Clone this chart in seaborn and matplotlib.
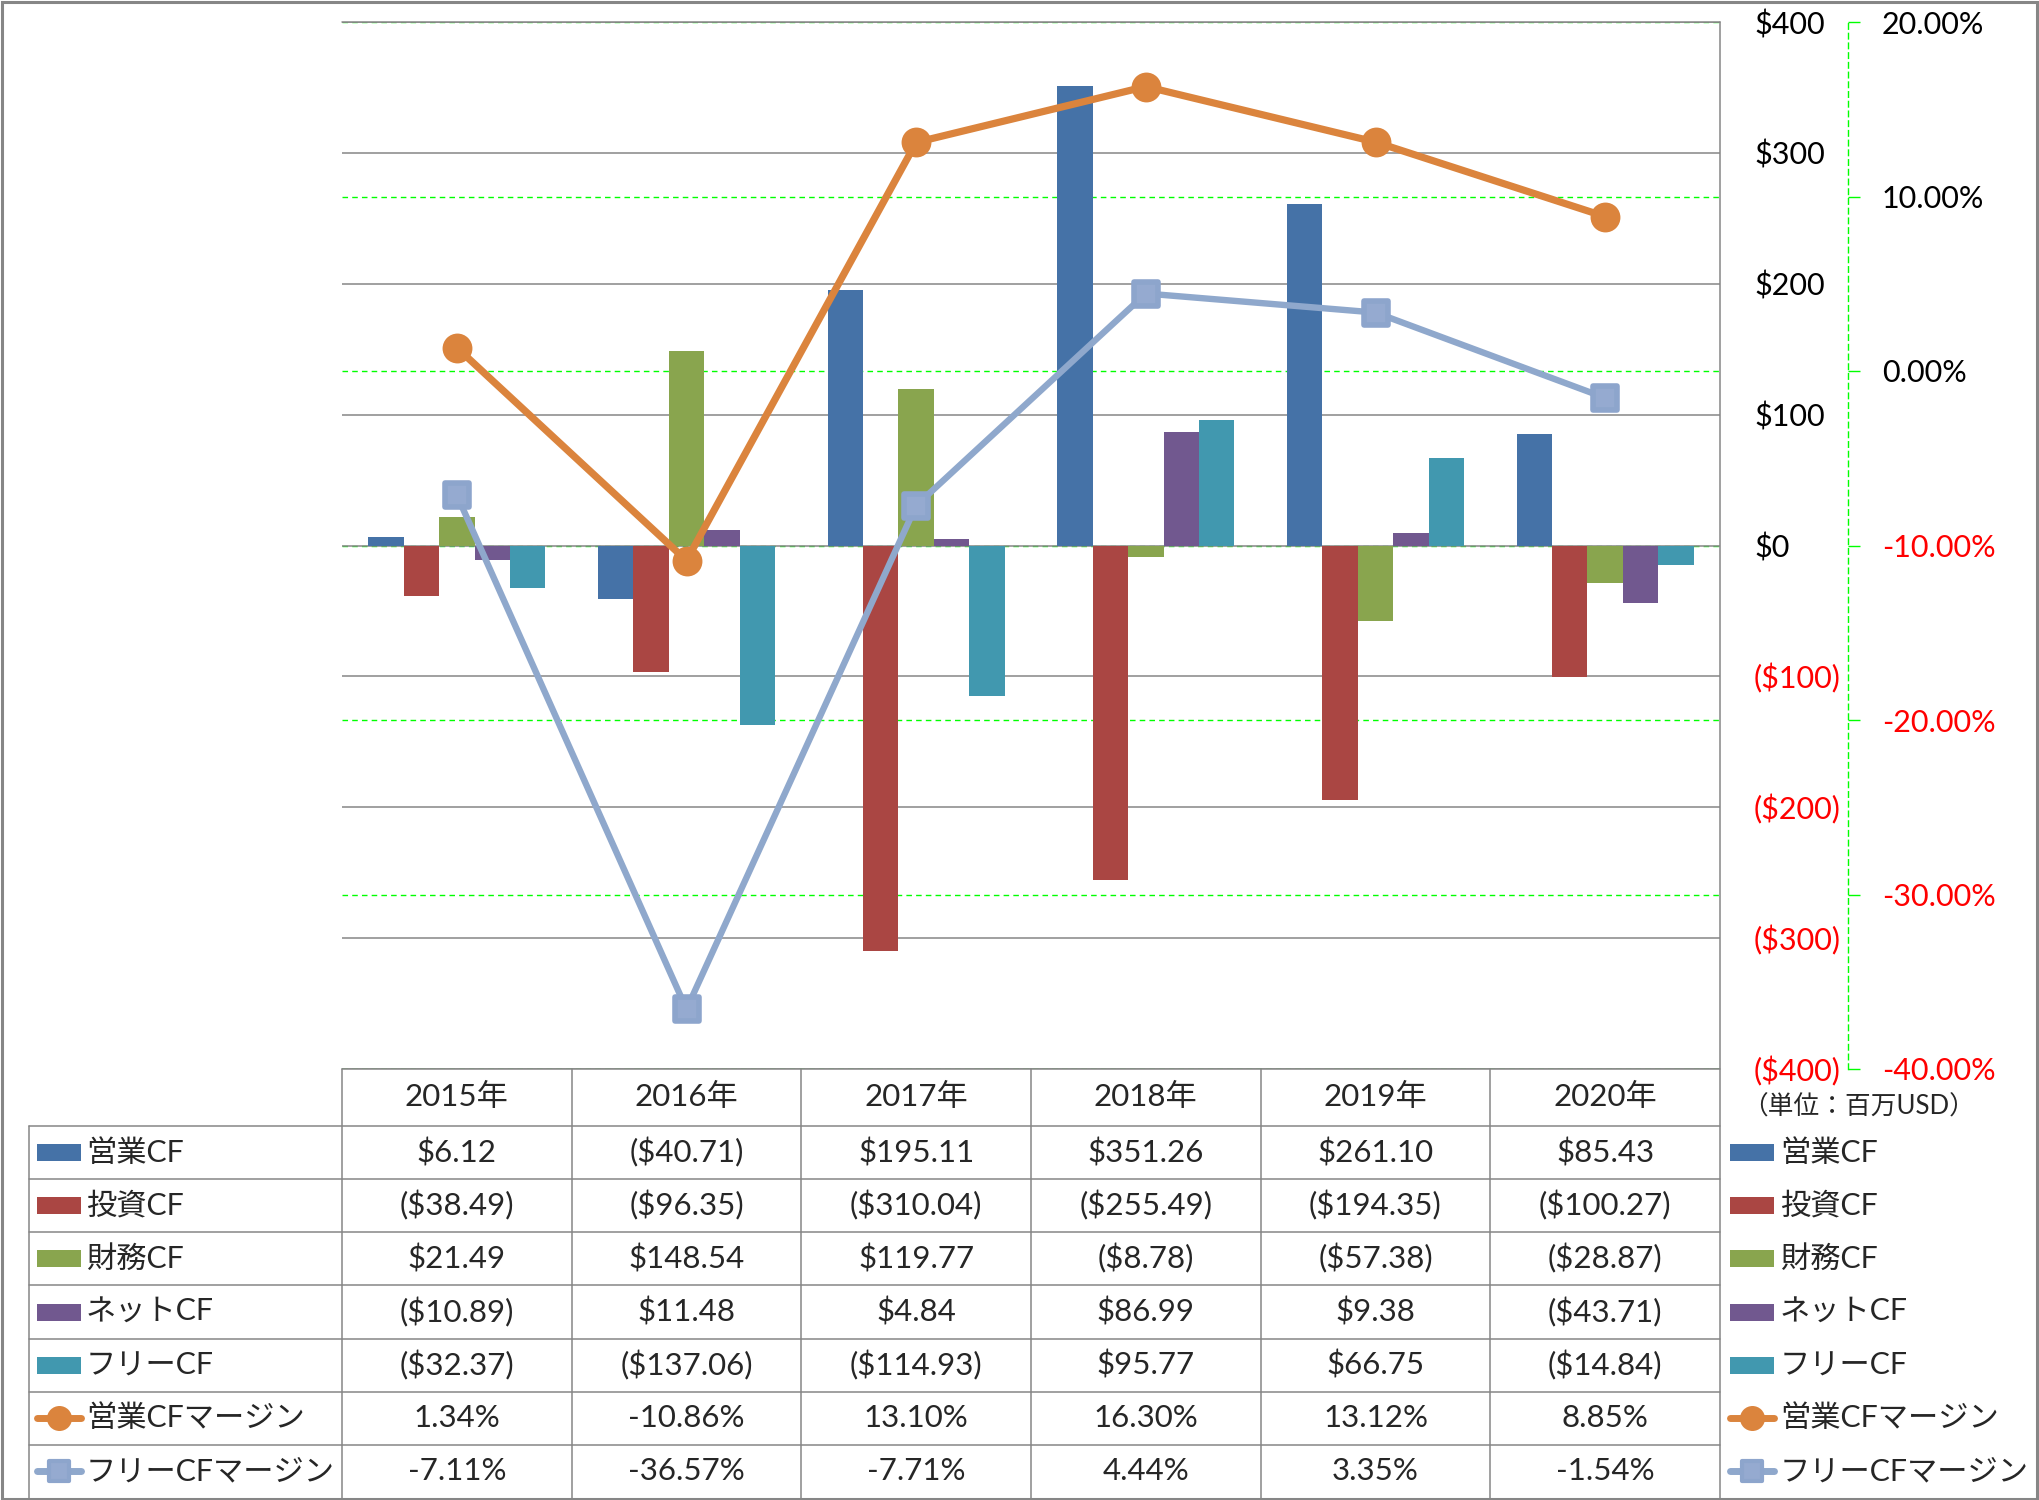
import numpy as np
import pandas as pd
import seaborn as sns
import matplotlib.pyplot as plt
from matplotlib.patches import Rectangle
from matplotlib.markers import MarkerStyle

# data (百万USD / %)
years = ['2015年', '2016年', '2017年', '2018年', '2019年', '2020年']
cf_names = ['営業CF', '投資CF', '財務CF', 'ネットCF', 'フリーCF']
op_cf = [6.12, -40.71, 195.11, 351.26, 261.10, 85.43]
inv_cf = [-38.49, -96.35, -310.04, -255.49, -194.35, -100.27]
fin_cf = [21.49, 148.54, 119.77, -8.78, -57.38, -28.87]
net_cf = [-10.89, 11.48, 4.84, 86.99, 9.38, -43.71]
free_cf = [-32.37, -137.06, -114.93, 95.77, 66.75, -14.84]
margin_names = ['営業CFマージン', 'フリーCFマージン']
op_margin = [1.34, -10.86, 13.10, 16.30, 13.12, 8.85]
free_margin = [-7.11, -36.57, -7.71, 4.44, 3.35, -1.54]
usd_ticks = [-400, -300, -200, -100, 0, 100, 200, 300, 400]
pct_ticks = [-40, -30, -20, -10, 0, 10, 20]

bar_colors = ['#4572A7', '#AA4643', '#89A54E', '#71588F', '#4198AF']
line_colors = ['#DB843D', '#8FA8CC']
GRID = '#868686'
GREEN = '#00FF00'

sns.set_theme(style='white')
plt.rcParams['font.family'] = ['Lato', 'Noto Sans CJK JP', 'DejaVu Sans']

cf = pd.DataFrame({'year': years, '営業CF': op_cf, '投資CF': inv_cf, '財務CF': fin_cf,
                   'ネットCF': net_cf, 'フリーCF': free_cf})
cf_long = cf.melt(id_vars='year', var_name='series', value_name='value')

W, H = 2039, 1500
fig = plt.figure(figsize=(W / 100, H / 100), dpi=100, facecolor='white')
ax = fig.add_axes([342 / W, 1 - 1069 / H, 1378 / W, 1047 / H])
ax2 = ax.twinx()
ax3 = ax.twinx()
ax2.set_zorder(1)
ax.set_zorder(2)
ax3.set_zorder(3)
for a in (ax, ax2, ax3):
    a.patch.set_visible(False)
    for s in a.spines.values():
        s.set_visible(False)

# bars
sns.barplot(data=cf_long, x='year', y='value', hue='series', order=years, hue_order=cf_names,
            palette=bar_colors, width=0.77, saturation=1, linewidth=0, errorbar=None,
            legend=False, ax=ax)
ax.set_xlim(-0.5, len(years) - 0.5)
ax.set_ylim(-400, 400)
ax.set_xlabel('')
ax.set_ylabel('')
ax.tick_params(axis='x', bottom=False, labelbottom=False)
ax.yaxis.tick_right()
ax.set_yticks(usd_ticks, ['$%d' % v if v >= 0 else '($%d)' % -v for v in usd_ticks])
ax.tick_params(axis='y', length=0, pad=24.5, labelsize=22)
for t, v in zip(ax.get_yticklabels(), usd_ticks):
    t.set_color('red' if v < 0 else 'black')
ax.yaxis.grid(True, color=GRID, lw=1.1)
ax.axhline(usd_ticks[-1], color=GRID, lw=1.1, clip_on=False, zorder=0.5)
ax.set_axisbelow(True)

# secondary % axis
ax2.set_ylim(-40, 20)
ax2.set_yticks(pct_ticks, ['%.2f%%' % v for v in pct_ticks])
ax2.spines['right'].set_visible(True)
ax2.spines['right'].set_position(('axes', (1848 - 342) / 1378))
ax2.spines['right'].set_color(GREEN)
ax2.spines['right'].set_linestyle((0, (4, 3)))
ax2.spines['right'].set_linewidth(1)
ax2.tick_params(axis='y', direction='out', length=8.6, width=1, color=GREEN, pad=15.8, labelsize=22)
for t, v in zip(ax2.get_yticklabels(), pct_ticks):
    t.set_color('red' if v < 0 else 'black')
ax2.yaxis.grid(True, color=GREEN, ls=(0, (4, 3)), lw=1)

# margin lines
xpos = np.arange(len(years))
ax3.set_ylim(-40, 20)
sns.lineplot(x=xpos, y=op_margin, ax=ax3, color=line_colors[0], lw=5.2, marker='o',
             markersize=21.5, markeredgewidth=0, markerfacecolor=line_colors[0])
sns.lineplot(x=xpos, y=free_margin, ax=ax3, color=line_colors[1], lw=4.6,
             marker=MarkerStyle('s', joinstyle='round'), markersize=17, markeredgewidth=4,
             markeredgecolor='#8DA5CC', markerfacecolor='#95AAD0')
ax3.set_ylim(-40, 20)
ax3.axis('off')

# data table
tab = fig.add_axes([0, 0, 1, 1])
tab.set_zorder(0)
tab.set_xlim(0, W)
tab.set_ylim(H, 0)
tab.axis('off')

col_edges = np.linspace(342, 1720, len(years) + 1)
row_edges = np.linspace(1126, 1498, 8)
lw_t = 1.1
tab.plot([342, 1720], [1069, 1069], color=GRID, lw=lw_t)
for y in row_edges[:-1]:
    tab.plot([29, 1720], [y, y], color=GRID, lw=lw_t)
tab.plot([29, 29], [1126, 1498], color=GRID, lw=lw_t)
for x in col_edges[:-1]:
    tab.plot([x, x], [1069, 1498], color=GRID, lw=lw_t)
tab.plot([1720, 1720], [22, 1498], color=GRID, lw=lw_t)
tab.add_patch(Rectangle((1.5, 1.5), W - 4, H - 3, fill=False, edgecolor=GRID, lw=2.2))

col_mid = (col_edges[:-1] + col_edges[1:]) / 2
for x, yr in zip(col_mid, years):
    tab.text(x, 1097, yr, ha='center', va='center', fontsize=22.5)
tab.text(1742, 1107, '（単位：百万USD）', ha='left', va='center', fontsize=18.5)


def fmt_usd(v):
    return '$%.2f' % v if v >= 0 else '($%.2f)' % -v


series = [(n, v, 'bar', c) for n, v, c in zip(cf_names, [op_cf, inv_cf, fin_cf, net_cf, free_cf], bar_colors)]
series += [(margin_names[0], op_margin, 'o', line_colors[0]), (margin_names[1], free_margin, 's', line_colors[1])]

for i, (name, vals, kind, color) in enumerate(series):
    yc = (row_edges[i] + row_edges[i + 1]) / 2
    for x0, tx in ((37, 86), (1730, 1780)):
        if kind == 'bar':
            tab.add_patch(Rectangle((x0, yc - 8.5), 44, 17, color=color, lw=0))
        else:
            tab.plot([x0, x0 + 44], [yc, yc], color=color, lw=5, solid_capstyle='round')
            if kind == 'o':
                tab.plot([x0 + 22], [yc], marker='o', ms=18, mew=0, color=color)
            else:
                tab.plot([x0 + 22], [yc], marker=MarkerStyle('s', joinstyle='round'), ms=14, mew=3,
                         mec='#8DA5CC', mfc='#95AAD0')
        tab.text(tx, yc, name, ha='left', va='center', fontsize=21.8)
    for x, v in zip(col_mid, vals):
        s = fmt_usd(v) if kind == 'bar' else '%.2f%%' % v
        tab.text(x, yc, s, ha='center', va='center', fontsize=22.5)

fig.savefig('out.png', dpi=100, facecolor='white')
